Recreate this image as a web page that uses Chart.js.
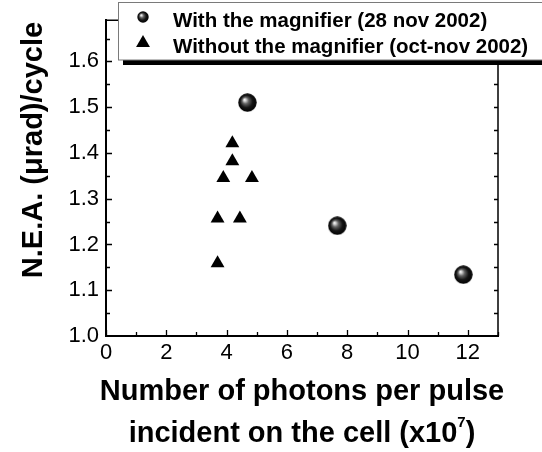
<!DOCTYPE html>
<html>
<head>
<meta charset="utf-8">
<script src="https://cdn.jsdelivr.net/npm/chart.js@4/dist/chart.umd.min.js"></script>
<style>
  html, body { margin: 0; padding: 0; background: #fff; }
  #wrap { width: 542px; height: 452px; }
</style>
</head>
<body>
<div id="wrap"><canvas id="nea" width="542" height="452"></canvas></div>
<script>
// photons per pulse (x10^7) vs N.E.A.
var magX = [4.69, 7.67, 11.85];
var magY = [1.510, 1.241, 1.134];
var noMagX = [4.19, 4.19, 3.89, 4.84, 3.70, 4.44, 3.70];
var noMagY = [1.421, 1.382, 1.345, 1.345, 1.257, 1.257, 1.159];

var seriesLabels = ['With the magnifier (28 nov 2002)', 'Without the magnifier (oct-nov 2002)'];
var xTitle = ['Number of photons per pulse', 'incident on the cell (x10', '7', ')'];
var yTitle = 'N.E.A. (\u03bcrad)/cycle';

var FONT = '"Liberation Sans", Arial, Helvetica, sans-serif';

function pairs(xs, ys) {
  return xs.map(function (x, i) { return { x: x, y: ys[i] }; });
}

// shaded ball marker
function ball(d) {
  var c = document.createElement('canvas');
  c.width = d; c.height = d;
  var g = c.getContext('2d');
  var r = d / 2;
  var grad = g.createRadialGradient(r - r * 0.32, r - r * 0.32, 0, r, r, r);
  grad.addColorStop(0, '#ffffff');
  grad.addColorStop(0.12, '#d8d8d8');
  grad.addColorStop(0.35, '#606060');
  grad.addColorStop(0.65, '#151515');
  grad.addColorStop(1, '#000000');
  g.fillStyle = grad;
  g.beginPath();
  g.arc(r, r, r - 0.3, 0, Math.PI * 2);
  g.fill();
  return c;
}
var bigBall = ball(19);
var smallBall = ball(12);

var framePlugin = {
  id: 'frame',
  afterDraw: function (chart) {
    var ctx = chart.ctx, a = chart.chartArea;
    var xs = chart.scales.x, ys = chart.scales.y;
    ctx.save();
    ctx.strokeStyle = '#000';

    // top and right edges
    ctx.lineWidth = 1.5;
    ctx.beginPath();
    ctx.moveTo(a.left, a.top); ctx.lineTo(a.right, a.top);
    ctx.moveTo(a.right, a.top); ctx.lineTo(a.right, a.bottom);
    ctx.stroke();

    // inward ticks
    ctx.lineWidth = 1.3;
    ctx.beginPath();
    var v, p, len;
    for (v = 0; v <= 13; v += 1) {
      p = Math.round(xs.getPixelForValue(v)) + 0.5;
      len = (v % 2 === 0) ? 6 : 4;
      ctx.moveTo(p, a.bottom); ctx.lineTo(p, a.bottom - len);
    }
    for (var k = 1; k <= 13; k++) {
      v = 1 + k * 0.05;
      p = Math.round(ys.getPixelForValue(v)) + 0.5;
      len = (k % 2 === 0) ? 6 : 4;
      ctx.moveTo(a.left, p); ctx.lineTo(a.left + len, p);
      ctx.moveTo(a.right, p); ctx.lineTo(a.right - 4, p);
    }
    ctx.stroke();

    // axis titles
    ctx.fillStyle = '#000';
    ctx.font = 'bold 29px ' + FONT;
    ctx.textAlign = 'center';
    ctx.textBaseline = 'alphabetic';
    var cx = (a.left + a.right) / 2;
    ctx.fillText(xTitle[0], cx, 400);
    var w1 = ctx.measureText(xTitle[1]).width;
    var w3 = ctx.measureText(xTitle[3]).width;
    ctx.font = 'bold 15px ' + FONT;
    var w2 = ctx.measureText(xTitle[2]).width;
    var sx = cx - (w1 + w2 + w3) / 2;
    ctx.textAlign = 'left';
    ctx.font = 'bold 29px ' + FONT;
    ctx.fillText(xTitle[1], sx, 442);
    ctx.font = 'bold 15px ' + FONT;
    ctx.fillText(xTitle[2], sx + w1, 427);
    ctx.font = 'bold 29px ' + FONT;
    ctx.fillText(xTitle[3], sx + w1 + w2, 442);

    ctx.save();
    ctx.translate(42, 150);
    ctx.rotate(-Math.PI / 2);
    ctx.textAlign = 'center';
    ctx.fillText(yTitle, 0, 0);
    ctx.restore();

    // legend box with drop shadow
    ctx.fillStyle = '#000';
    ctx.fillRect(123, 60, 430, 5);
    ctx.fillStyle = '#fff';
    ctx.fillRect(118.5, 2.5, 440, 57.5);
    ctx.strokeStyle = '#7a7a7a';
    ctx.lineWidth = 1;
    ctx.strokeRect(118.5, 2.5, 440, 57.5);

    var ds = chart.data.datasets;
    ctx.drawImage(smallBall, 143 - 6, 17 - 6);
    ctx.fillStyle = '#000';
    ctx.beginPath();
    var r = 8, ty = 43;
    ctx.moveTo(143, ty - r);
    ctx.lineTo(143 + r * Math.cos(Math.PI / 6), ty + r / 2);
    ctx.lineTo(143 - r * Math.cos(Math.PI / 6), ty + r / 2);
    ctx.closePath();
    ctx.fill();

    ctx.font = 'bold 20.5px ' + FONT;
    ctx.textAlign = 'left';
    ctx.fillText(ds[0].label, 173, 27);
    ctx.fillText(ds[1].label, 173, 53);
    ctx.restore();
  }
};

new Chart(document.getElementById('nea'), {
  type: 'scatter',
  data: {
    datasets: [{
      label: seriesLabels[0],
      data: pairs(magX, magY),
      pointStyle: bigBall,
      pointRadius: 9,
      backgroundColor: '#000'
    }, {
      label: seriesLabels[1],
      data: pairs(noMagX, noMagY),
      pointStyle: 'triangle',
      pointRadius: 8,
      borderWidth: 0,
      backgroundColor: '#000',
      borderColor: '#000'
    }]
  },
  options: {
    responsive: false,
    animation: false,
    layout: { padding: { left: 0, top: 17, right: 44, bottom: 0 } },
    plugins: {
      legend: { display: false },
      tooltip: { enabled: false }
    },
    scales: {
      x: {
        type: 'linear',
        min: 0, max: 13,
        afterFit: function (s) { s.height = 116; },
        grid: { display: false, drawTicks: false },
        border: { display: true, color: '#000', width: 2 },
        ticks: {
          stepSize: 2,
          includeBounds: false,
          padding: 4,
          color: '#000',
          maxRotation: 0,
          font: { family: FONT, size: 22 }
        }
      },
      y: {
        type: 'linear',
        min: 1.0, max: 1.69,
        afterFit: function (s) { s.width = 106; },
        grid: { display: false, drawTicks: false },
        border: { display: true, color: '#000', width: 2 },
        ticks: {
          stepSize: 0.1,
          includeBounds: false,
          padding: 7,
          color: '#000',
          font: { family: FONT, size: 22 },
          callback: function (v) { return Number(v).toFixed(1); }
        }
      }
    }
  },
  plugins: [framePlugin]
});
</script>
</body>
</html>
